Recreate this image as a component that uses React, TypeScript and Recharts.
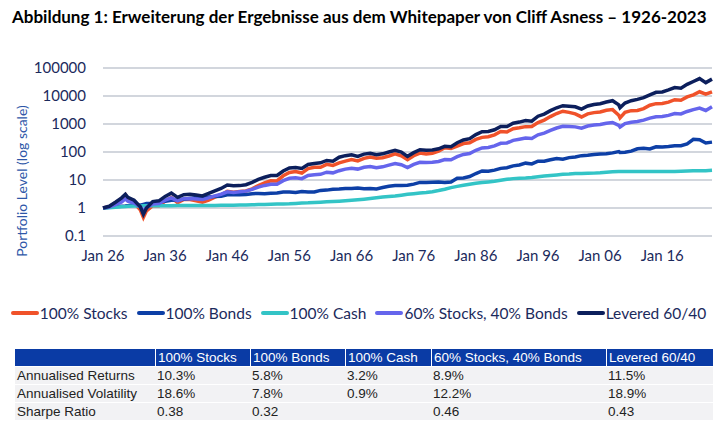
import React from 'react';
import { LineChart, Line, XAxis, YAxis, CartesianGrid } from 'recharts';

// Jan of each year (value = end of previous year), plus a few intra-year turning points
const years = [
  1926, 1927, 1928, 1929, 1929.6, 1930, 1931, 1932, 1932.5, 1933, 1934, 1935,
  1936, 1937, 1938, 1939, 1940, 1941, 1942, 1943, 1944, 1945,
  1946, 1947, 1948, 1949, 1950, 1951, 1952, 1953, 1954, 1955,
  1956, 1957, 1958, 1959, 1960, 1961, 1962, 1963, 1964, 1965,
  1966, 1967, 1968, 1969, 1970, 1971, 1972, 1973, 1974, 1975,
  1976, 1977, 1978, 1979, 1980, 1981, 1982, 1983, 1984, 1985,
  1986, 1987, 1988, 1989, 1990, 1991, 1992, 1993, 1994, 1995,
  1996, 1997, 1998, 1999, 2000, 2001, 2002, 2003, 2004, 2005,
  2006, 2007, 2008, 2009, 2009.2, 2010, 2011, 2012, 2013, 2014, 2015,
  2016, 2017, 2018, 2019, 2020, 2021, 2022, 2023, 2024,
];

const stocks = [
  1.0, 1.12, 1.53, 2.2, 2.95, 2.02, 1.52, 0.86, 0.46, 0.79, 1.21, 1.2,
  1.77, 2.37, 1.54, 2.02, 2.01, 1.81, 1.6, 1.93, 2.43, 2.91,
  3.97, 3.65, 3.85, 4.07, 4.83, 6.36, 7.89, 9.34, 9.25, 14.1,
  18.6, 19.9, 17.7, 25.4, 28.4, 28.6, 36.3, 33.1, 40.7, 47.4,
  53.3, 47.9, 59.4, 66.0, 60.4, 62.8, 71.8, 85.4, 72.9, 53.6,
  73.6, 91.2, 84.7, 90.3, 107, 141, 134, 163, 200, 213,
  281, 333, 350, 408, 537, 520, 679, 730, 804, 815,
  1121, 1379, 1839, 2365, 2862, 2602, 2293, 1786, 2299, 2549,
  2674, 3097, 3267, 2058, 1650, 2603, 2995, 3058, 3547, 4696, 5339,
  5413, 6060, 7383, 7059, 9282, 10990, 14145, 11583, 14000,
];

const bonds = [
  1.0, 1.06, 1.14, 1.16, 1.18, 1.21, 1.3, 1.25, 1.35, 1.45, 1.48, 1.65,
  1.75, 1.9, 1.92, 2.05, 2.2, 2.35, 2.38, 2.48, 2.55, 2.65,
  2.95, 2.98, 2.95, 3.05, 3.25, 3.3, 3.25, 3.35, 3.45, 3.7,
  3.7, 3.6, 3.85, 3.75, 3.75, 4.25, 4.35, 4.65, 4.75, 4.95,
  5.0, 5.2, 4.9, 5.0, 4.8, 5.4, 6.0, 6.3, 6.3, 6.5,
  7.1, 8.2, 8.2, 8.3, 8.4, 8.2, 8.5, 11.5, 11.8, 13.3,
  17.0, 21.0, 20.5, 22.5, 26.0, 27.5, 32.0, 34.5, 40.0, 37.5,
  47, 47, 53, 59, 55, 63, 66, 74, 76, 81,
  85, 86, 93, 104, 96, 98, 107, 130, 137, 128, 153,
  152, 157, 168, 168, 195, 285, 275, 210, 225,
];

const cash = [
  1.0, 1.03, 1.06, 1.1, 1.12, 1.15, 1.17, 1.19, 1.2, 1.2, 1.21, 1.21,
  1.21, 1.21, 1.22, 1.22, 1.22, 1.22, 1.22, 1.23, 1.24, 1.25,
  1.25, 1.26, 1.27, 1.28, 1.3, 1.32, 1.34, 1.36, 1.39, 1.4,
  1.42, 1.46, 1.51, 1.53, 1.58, 1.62, 1.66, 1.7, 1.75, 1.82,
  1.89, 1.98, 2.07, 2.18, 2.32, 2.47, 2.57, 2.67, 2.85, 3.07,
  3.25, 3.41, 3.58, 3.83, 4.19, 4.66, 5.36, 5.92, 6.44, 7.06,
  7.6, 8.07, 8.51, 9.05, 9.81, 10.6, 11.2, 11.6, 11.9, 12.4,
  13.1, 13.8, 14.5, 15.2, 15.9, 16.3, 16.9, 17.2, 17.4, 17.6,
  18.1, 18.9, 19.7, 20.0, 20.0, 20.0, 20.0, 20.0, 20.0, 20.0, 20.0,
  20.0, 20.1, 20.2, 20.6, 21.1, 21.2, 21.2, 21.5, 22.3,
];

const mix6040 = [
  1.0, 1.09, 1.32, 1.65, 2.1, 1.75, 1.5, 1.1, 0.8, 1.05, 1.4, 1.45,
  1.9, 2.3, 1.8, 2.15, 2.2, 2.1, 2.0, 2.3, 2.7, 3.1,
  3.8, 3.6, 3.8, 4.0, 4.6, 5.6, 6.4, 7.1, 7.1, 9.5,
  11.5, 12.0, 11.2, 14.5, 15.5, 16.0, 19.0, 18.0, 21.5, 24.5,
  26.5, 24.5, 28.5, 30.5, 27.5, 29.5, 34, 39, 35, 28,
  36, 43, 42, 43, 46, 54, 53, 68, 82, 88,
  115, 140, 145, 165, 205, 210, 260, 285, 315, 305,
  410, 470, 590, 720, 830, 820, 790, 710, 850, 920,
  960, 1060, 1130, 900, 780, 1030, 1160, 1230, 1380, 1620, 1820,
  1850, 2030, 2350, 2280, 2800, 3250, 3700, 3050, 4150,
];

const levered = [
  1.0, 1.15, 1.6, 2.3, 3.1, 2.4, 1.9, 1.1, 0.6, 1.0, 1.7, 1.8,
  2.6, 3.4, 2.4, 3.0, 3.1, 2.9, 2.7, 3.3, 4.1, 5.0,
  6.6, 6.2, 6.3, 6.8, 8.2, 10.5, 12.5, 14.5, 14.5, 21,
  27, 28, 26, 36, 39, 41, 50, 47, 65, 74,
  80, 70, 84, 90, 80, 86, 100, 115, 100, 70,
  95, 120, 115, 118, 130, 160, 155, 215, 270, 300,
  420, 530, 540, 620, 820, 810, 1070, 1170, 1330, 1260,
  1900, 2250, 3000, 3800, 4500, 4300, 4100, 3400, 4400, 5000,
  5300, 6100, 6800, 4800, 3800, 5600, 6800, 7600, 8700, 11000, 13500,
  14000, 16500, 20000, 19000, 26000, 33000, 42000, 30000, 40000,
];

const xTicks = [1926, 1936, 1946, 1956, 1966, 1976, 1986, 1996, 2006, 2016];
const yTicks = [0.1, 1, 10, 100, 1000, 10000, 100000];

const tableHeaders = ['100% Stocks', '100% Bonds', '100% Cash', '60% Stocks, 40% Bonds', 'Levered 60/40'];
const tableRows = ['Annualised Returns', 'Annualised Volatility', 'Sharpe Ratio'];
const returns = ['10.3%', '5.8%', '3.2%', '8.9%', '11.5%'];
const volatility = ['18.6%', '7.8%', '0.9%', '12.2%', '18.9%'];
const sharpe = ['0.38', '0.32', '', '0.46', '0.43'];

const SERIES = [
  { key: 'stocks', name: '100% Stocks', color: '#F0522A' },
  { key: 'bonds', name: '100% Bonds', color: '#0D3FA6' },
  { key: 'cash', name: '100% Cash', color: '#33C4C6' },
  { key: 'mix', name: '60% Stocks, 40% Bonds', color: '#6565EC' },
  { key: 'levered', name: 'Levered 60/40', color: '#0C1F5C' },
];

const data = years.map((year, i) => ({
  year,
  stocks: stocks[i],
  bonds: bonds[i],
  cash: cash[i],
  mix: mix6040[i],
  levered: levered[i],
}));

const NAVY = '#1B2A5C';
const colWidths = [140, 95, 95, 86, 175, 107];

const YLabel = () => (
  <text
    x={21}
    y={181}
    transform="rotate(-90 21 181)"
    textAnchor="middle"
    dominantBaseline="central"
    fill="#2E57A8"
    fontSize={14}
    fontFamily="Lato"
  >
    Portfolio Level (log scale)
  </text>
);

const App = () => {
  const rowValues = [returns, volatility, sharpe];
  return (
    <div style={{ position: 'relative', width: 717, height: 436, background: '#fff', overflow: 'hidden' }}>
      <style>{'body{margin:0}'}</style>
      <div
        style={{
          position: 'absolute', left: 12, top: 6, fontFamily: 'Lato', fontWeight: 700,
          fontSize: 17, color: '#000', whiteSpace: 'nowrap',
        }}
      >
        Abbildung 1: Erweiterung der Ergebnisse aus dem Whitepaper von Cliff Asness – 1926-2023
      </div>
      <div style={{ position: 'absolute', left: 0, top: 0 }}>
        <LineChart width={717} height={336} data={data} margin={{ top: 68, right: 5, bottom: 70, left: 8 }}>
          <CartesianGrid vertical={false} stroke="#C3C9D2" strokeWidth={1.5} />
          <XAxis
            dataKey="year"
            type="number"
            domain={[1926, 2024]}
            ticks={xTicks}
            tickFormatter={(y: number) => `Jan ${String(y).slice(2)}`}
            axisLine={false}
            tickLine={false}
            tickSize={0}
            tickMargin={14}
            tick={{ fill: NAVY, fontSize: 15, fontFamily: 'Lato' }}
            interval={0}
          />
          <YAxis
            scale="log"
            domain={[0.1, 100000]}
            ticks={yTicks}
            allowDataOverflow
            width={95}
            axisLine={false}
            tickLine={false}
            tickSize={0}
            tickMargin={17}
            tick={{ fill: NAVY, fontSize: 15, fontFamily: 'Lato' }}
            tickFormatter={(v: number) => String(v)}
            interval={0}
            label={{ content: () => <YLabel /> }}
          />
          {SERIES.map((s) => (
            <Line
              key={s.key}
              type="linear"
              dataKey={s.key}
              name={s.name}
              stroke={s.color}
              strokeWidth={3.5}
              dot={false}
              isAnimationActive={false}
            />
          ))}
        </LineChart>
      </div>
      <div
        style={{
          position: 'absolute', top: 304, left: 0, width: 717, display: 'flex', justifyContent: 'center',
          gap: 9, fontFamily: 'Lato', fontSize: 15.5, color: NAVY,
        }}
      >
        {SERIES.map((s) => (
          <div key={s.key} style={{ display: 'flex', alignItems: 'center' }}>
            <span style={{ width: 28, height: 4, borderRadius: 2, background: s.color, display: 'inline-block', marginRight: 1 }} />
            <span>{s.name}</span>
          </div>
        ))}
      </div>
      <table
        style={{
          position: 'absolute', left: 15, top: 349, borderCollapse: 'separate', borderSpacing: 0,
          fontFamily: 'Liberation Sans', fontSize: 13.5, color: '#222', tableLayout: 'fixed', width: 698,
        }}
      >
        <colgroup>
          {colWidths.map((w, i) => (
            <col key={i} style={{ width: w }} />
          ))}
        </colgroup>
        <thead>
          <tr>
            <th style={{ background: '#0A3BA5', height: 17, padding: 0 }} />
            {tableHeaders.map((h) => (
              <th
                key={h}
                style={{
                  background: '#0A3BA5', color: '#fff', fontWeight: 400, textAlign: 'left',
                  padding: '0 2px', height: 17, borderLeft: '1.5px solid #fff', whiteSpace: 'nowrap',
                }}
              >
                {h}
              </th>
            ))}
          </tr>
        </thead>
        <tbody>
          {tableRows.map((label, r) => (
            <tr key={label}>
              <td style={{ background: '#F2F2F4', padding: '0 2px', height: 17, borderTop: '1.5px solid #fff', whiteSpace: 'nowrap' }}>
                {label}
              </td>
              {rowValues[r].map((v, c) => (
                <td
                  key={c}
                  style={{ background: '#F2F2F4', padding: '0 2px', height: 17, borderTop: '1.5px solid #fff' }}
                >
                  {v}
                </td>
              ))}
            </tr>
          ))}
        </tbody>
      </table>
    </div>
  );
};

export default App;
